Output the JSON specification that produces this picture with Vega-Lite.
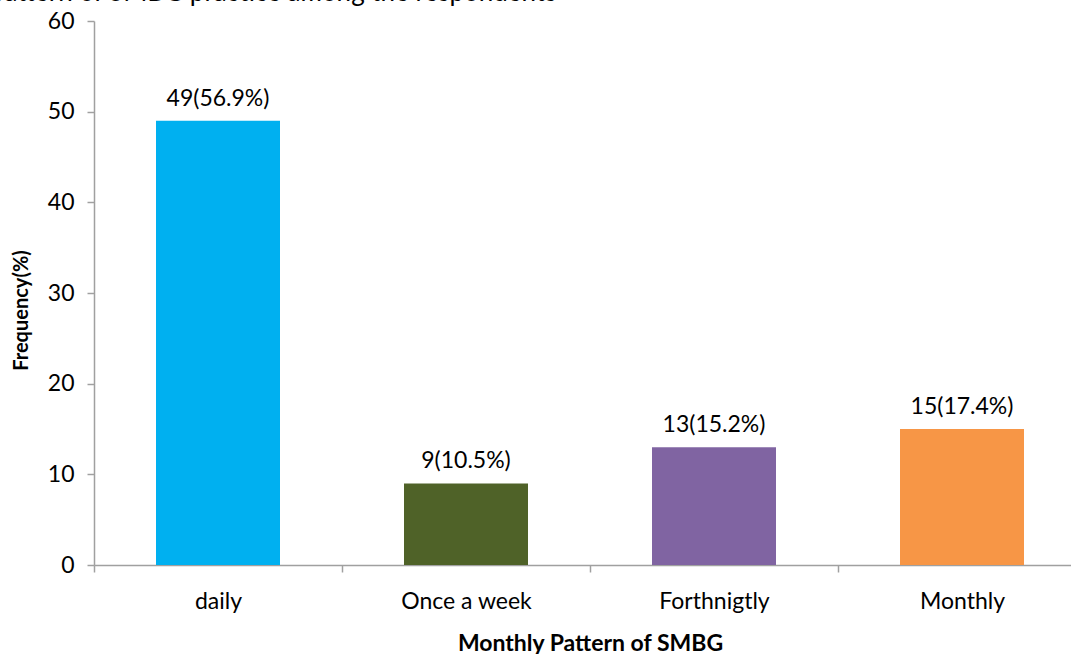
{
  "$schema": "https://vega.github.io/schema/vega-lite/v6.json",
  "autosize": "none",
  "width": 992,
  "height": 544,
  "padding": {"left": 94, "top": 21, "right": 0, "bottom": 89},
  "background": "white",
  "title": {
    "text": "pattern of SMBG practice among the respondents",
    "anchor": "start",
    "frame": "group",
    "font": "Lato",
    "fontSize": 26,
    "fontWeight": "normal",
    "color": "black",
    "baseline": "alphabetic",
    "dx": -104,
    "offset": 0,
    "dy": 17
  },
  "data": {
    "values": [
      {"category": "daily", "value": 49, "label": "49(56.9%)"},
      {"category": "Once a week", "value": 9, "label": "9(10.5%)"},
      {"category": "Forthnigtly", "value": 13, "label": "13(15.2%)"},
      {"category": "Monthly", "value": 15, "label": "15(17.4%)"}
    ]
  },
  "config": {
    "view": {"stroke": null},
    "font": "Lato",
    "axis": {
      "grid": false,
      "domainColor": "#a0a0a0",
      "tickColor": "#a0a0a0",
      "domainWidth": 1.5,
      "tickWidth": 1.5,
      "labelFont": "Lato",
      "labelFontSize": 23,
      "labelColor": "black",
      "titleFont": "Lato",
      "titleFontWeight": "bold",
      "titleColor": "black"
    }
  },
  "encoding": {
    "x": {
      "field": "category",
      "type": "nominal",
      "sort": null,
      "scale": {"paddingInner": 0, "paddingOuter": 0},
      "axis": {
        "title": "Monthly Pattern of SMBG",
        "titleFontSize": 23,
        "labelAngle": 0,
        "tickBand": "extent",
        "tickSize": 7,
        "labelPadding": 18,
        "titlePadding": 19
      }
    },
    "y": {
      "field": "value",
      "type": "quantitative",
      "scale": {"domain": [0, 60], "nice": false},
      "axis": {
        "title": "Frequency(%)",
        "titleFontSize": 20,
        "titleY": 289,
        "values": [0, 10, 20, 30, 40, 50, 60],
        "tickSize": 7,
        "labelPadding": 13,
        "titlePadding": 16
      }
    }
  },
  "layer": [
    {
      "mark": {"type": "bar", "width": {"band": 0.5}},
      "encoding": {
        "color": {
          "field": "category",
          "type": "nominal",
          "sort": null,
          "scale": {
            "domain": ["daily", "Once a week", "Forthnigtly", "Monthly"],
            "range": ["#00B0F0", "#4F6228", "#8064A2", "#F79646"]
          },
          "legend": null
        }
      }
    },
    {
      "mark": {"type": "text", "baseline": "alphabetic", "dy": -15, "fontSize": 23, "font": "Lato", "color": "black"},
      "encoding": {"text": {"field": "label"}}
    }
  ]
}
